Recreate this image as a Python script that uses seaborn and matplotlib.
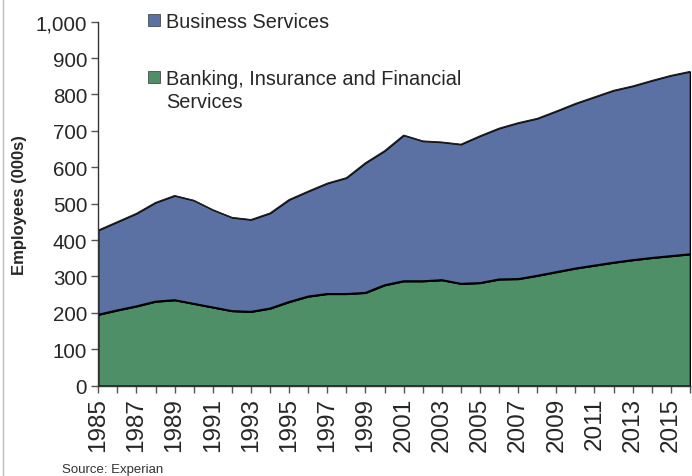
import numpy as np
import pandas as pd
import matplotlib
matplotlib.use("Agg")
import matplotlib.pyplot as plt
from matplotlib.patches import Patch
from matplotlib.lines import Line2D
import seaborn as sns

years = list(range(1985, 2017))
banking = [195, 207, 218, 231, 235, 225, 215, 205, 203, 212, 230, 245, 252, 252, 255, 276,
           287, 287, 290, 280, 282, 292, 293, 302, 312, 322, 330, 338, 345, 351, 356, 361]
business = [232, 243, 255, 272, 287, 284, 268, 257, 253, 262, 281, 289, 304, 319, 357, 369,
            401, 385, 379, 383, 404, 415, 429, 432, 442, 453, 463, 473, 478, 487, 496, 502]
business_label = "Business Services"
banking_label_lines = ["Banking, Insurance and Financial", "Services"]
y_ticks = [0, 100, 200, 300, 400, 500, 600, 700, 800, 900, 1000]
y_label = "Employees (000s)"
source_text = "Source: Experian"

blue = "#5B70A3"
green = "#4E8F68"

sns.set_style("ticks")
plt.rcParams['font.family'] = ['Liberation Sans', 'DejaVu Sans']

df = pd.DataFrame({"year": years, "banking": banking, "business": business})

fig = plt.figure(figsize=(6.92, 4.77), dpi=100)
ax = fig.add_axes([0.142, 0.1895, 0.855, 0.763])

ax.stackplot(df["year"], df["banking"], df["business"], colors=[green, blue],
             edgecolor="black", linewidth=1.0)
top = df["banking"] + df["business"]
sns.lineplot(x=df["year"], y=df["banking"], ax=ax, color="black", linewidth=1.3)
sns.lineplot(x=df["year"], y=top, ax=ax, color="#222222", linewidth=0.9)

ax.set_xlim(1985, 2016)
ax.set_ylim(0, 1000)
ax.set_yticks(y_ticks)
ax.set_yticklabels([f"{v:,}" for v in y_ticks], fontsize=14.8)
ax.set_xticks(years)
ax.set_xticklabels([str(y) if (y - 1985) % 2 == 0 else "" for y in years],
                   rotation=90, fontsize=17.5)
ax.tick_params(axis="both", direction="out", length=5, width=1, color="#555555", pad=3)
ax.set_xlabel("")
ax.set_ylabel(y_label, fontsize=12, fontweight="bold", labelpad=6)
sns.despine(ax=ax)
for s in ["left", "bottom"]:
    ax.spines[s].set_color("#333333")
    ax.spines[s].set_linewidth(1.0)

leg_kw = dict(loc="upper left", frameon=False, fontsize=14.3, handlelength=0.62,
              handleheight=0.62, handletextpad=0.3, borderpad=0, borderaxespad=0)
fig.legend([Patch(facecolor=blue, edgecolor="#333333", linewidth=0.5)], [business_label],
           bbox_to_anchor=(148 / 692, 1 - 13 / 477), **leg_kw)
fig.legend([Patch(facecolor=green, edgecolor="#333333", linewidth=0.5),
            Patch(facecolor="none", edgecolor="none")],
           banking_label_lines, bbox_to_anchor=(148 / 692, 1 - 70 / 477),
           labelspacing=0.22, **leg_kw)

fig.text(62 / 692, 1 - 470 / 477, source_text, fontsize=9.5, color="#333333",
         va="center", ha="left")
fig.add_artist(Line2D([2.5 / 692, 2.5 / 692], [0, 1], transform=fig.transFigure,
                      color="#BBBBBB", linewidth=1))

fig.savefig("out.png", dpi=100)
